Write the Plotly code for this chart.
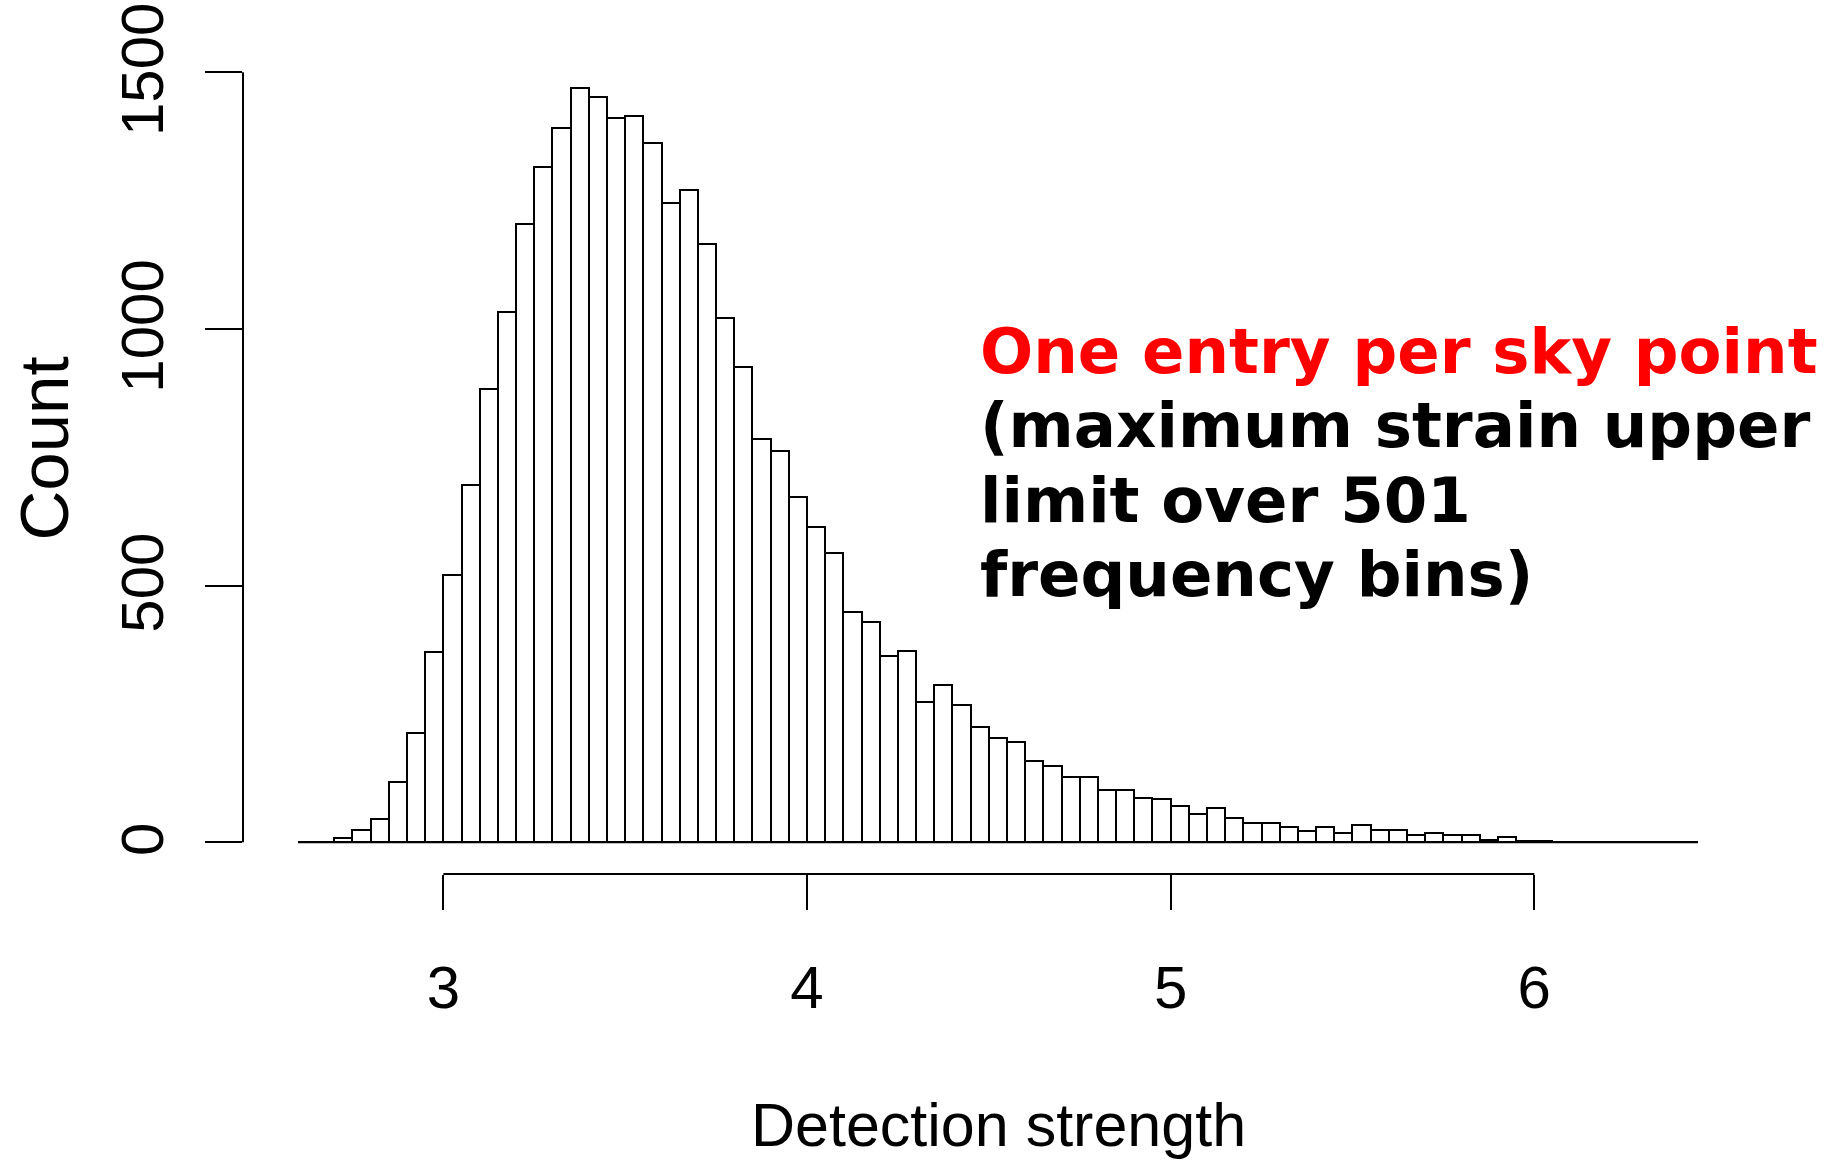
import numpy as np
import plotly.graph_objects as go

# ---------------- data ----------------
bin_start = 2.60
bin_width = 0.05
counts = [
    0, 0, 8, 23, 46, 117, 212, 371,            # 2.60 - 2.95
    520, 697, 883, 1033, 1205, 1315, 1392, 1470,  # 3.00 - 3.35
    1452, 1410, 1414, 1362, 1246, 1270, 1165, 1021,  # 3.40 - 3.75
    926, 786, 763, 672,                        # 3.80 - 3.95
    615, 563, 449, 430, 362, 372, 273, 306,    # 4.00 - 4.35
    268, 224, 204, 196, 158, 148, 128, 128,    # 4.40 - 4.75
    101, 101, 86, 85,                          # 4.80 - 4.95
    71, 56, 66, 47, 37, 37, 29, 22,            # 5.00 - 5.35
    29, 19, 33, 23, 23, 14, 19, 14,            # 5.40 - 5.75
    14, 5, 10, 3,                              # 5.80 - 5.95
    3, 0, 0, 0, 0, 0, 0, 0, 0,                 # 6.00 - 6.40
]
x_ticks = [3, 4, 5, 6]
y_ticks = [0, 500, 1000, 1500]
x_title = "Detection strength"
y_title = "Count"
note_lines = ["One entry per sky point", "(maximum strain upper", "limit over 501", "frequency bins)"]
note_colors = ["#FF0000", "#000000", "#000000", "#000000"]

edges = bin_start + bin_width * np.arange(len(counts) + 1)
centers = edges[:-1] + bin_width / 2

# ---------------- layout geometry ----------------
W, H = 1837, 1160
L, R, T, B = 243, 37, 40, 286
pw, ph = W - L - R, H - T - B

def px_x(p):
    return (p - L) / pw

def px_y(p):
    return (H - B - p) / ph

AX_FONT = "Liberation Sans, Arial, Helvetica, sans-serif"

fig = go.Figure()
fig.add_trace(go.Bar(
    x=centers, y=counts, width=bin_width,
    marker=dict(color="white", line=dict(color="black", width=2)),
    hoverinfo="x+y", showlegend=False,
))

shapes = [
    # baseline under all bins
    dict(type="line", xref="x", yref="y", x0=edges[0], x1=edges[-1], y0=0, y1=0,
         line=dict(color="black", width=2), layer="above"),
    # detached x axis line (first to last tick)
    dict(type="line", xref="x", yref="paper", x0=x_ticks[0], x1=x_ticks[-1], y0=0, y1=0,
         line=dict(color="black", width=2)),
    # detached y axis line
    dict(type="line", xref="paper", yref="y", x0=0, x1=0, y0=y_ticks[0], y1=y_ticks[-1],
         line=dict(color="black", width=2)),
]

annotations = [
    dict(text=y_title, xref="paper", yref="paper", x=px_x(44.5), y=px_y(449),
         textangle=-90, showarrow=False, xanchor="center", yanchor="middle",
         font=dict(family=AX_FONT, size=69, color="black")),
    dict(text=x_title, xref="paper", yref="paper", x=px_x(998.5), y=px_y(1125),
         showarrow=False, xanchor="center", yanchor="middle",
         font=dict(family=AX_FONT, size=61, color="black")),
]
baselines = [377, 451, 526, 600]
for txt, col, bl in zip(note_lines, note_colors, baselines):
    annotations.append(dict(
        text=txt, xref="paper", yref="paper", x=px_x(978), y=px_y(bl - 25.5),
        showarrow=False, xanchor="left", yanchor="middle", align="left",
        font=dict(family="DejaVu Sans", size=62.6, color=col, weight="bold"),
    ))

fig.update_layout(
    width=W, height=H,
    margin=dict(l=L, r=R, t=T, b=B, autoexpand=False),
    paper_bgcolor="white", plot_bgcolor="white",
    bargap=0,
    shapes=shapes, annotations=annotations,
    xaxis=dict(range=[2.44889, 6.73071], tickmode="array", tickvals=x_ticks,
               ticktext=[str(v) for v in x_ticks],
               ticks="outside", ticklen=35, tickwidth=2, tickcolor="black",
               showline=False, showgrid=False, zeroline=False,
               ticklabelstandoff=26, ticklabeloverflow="allow",
               tickfont=dict(family=AX_FONT, size=60, color="black"),
               fixedrange=True),
    yaxis=dict(range=[-61.75, 1562.9], tickmode="array", tickvals=y_ticks,
               ticktext=[str(v) for v in y_ticks],
               ticks="outside", ticklen=37, tickwidth=2, tickcolor="black",
               tickangle=-90, ticklabelstandoff=18, ticklabelshift=6,
               ticklabeloverflow="allow",
               showline=False, showgrid=False, zeroline=False,
               tickfont=dict(family=AX_FONT, size=60, color="black"),
               fixedrange=True),
)

fig.write_html("out.html")
